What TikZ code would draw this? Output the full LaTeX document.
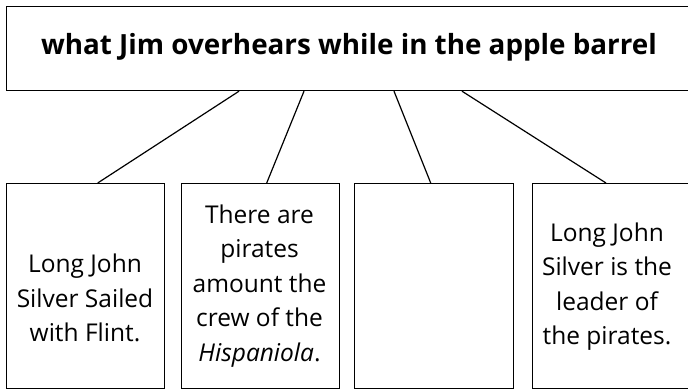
\documentclass[tikz,border=0pt]{standalone}
\usepackage{fontspec}
\setmainfont{Open Sans}
\begin{document}
\begin{tikzpicture}[x=1pt,y=-1pt,
  box/.style={draw, line width=1.2pt, inner sep=0pt, anchor=north west},
  conn/.style={line width=1.2pt},
  txt/.style={align=center, font=\fontsize{24.5}{34.5}\selectfont, inner sep=0pt},
  ttl/.style={font=\fontsize{27.8}{32}\selectfont\bfseries, inner sep=0pt}]
\useasboundingbox (0,0) rectangle (688,389);
\node[box, minimum width=690pt, minimum height=84.5pt] (top) at (5.5,5.5) {};
\node[ttl] (title) at (349,47) {what Jim overhears while in the apple barrel};
\node[box, minimum width=158.5pt, minimum height=204.5pt] (b1) at (5.5,183) {};
\node[box, minimum width=158.5pt, minimum height=204.5pt] (b2) at (180.5,183) {};
\node[box, minimum width=158.5pt, minimum height=204.5pt] (b3) at (354,183) {};
\node[box, minimum width=165pt, minimum height=204.5pt] (b4) at (532,183) {};
\node[txt] (t1) at (85,298) {Long John\\Silver Sailed\\with Flint.};
\node[txt] (t2) at (259.5,286) {There are\\pirates\\amount the\\crew of the\\\textit{Hispaniola}.};
\node[txt] (t4) at (607,286.5) {Long John\\Silver is the\\leader of\\the pirates.};
\draw[conn] ([xshift=233.5pt]top.south west) -- ([xshift=92.2pt]b1.north west);
\draw[conn] ([xshift=298.5pt]top.south west) -- ([xshift=86.2pt]b2.north west);
\draw[conn] ([xshift=388.5pt]top.south west) -- ([xshift=76.7pt]b3.north west);
\draw[conn] ([xshift=456.5pt]top.south west) -- ([xshift=74pt]b4.north west);
\end{tikzpicture}
\end{document}
